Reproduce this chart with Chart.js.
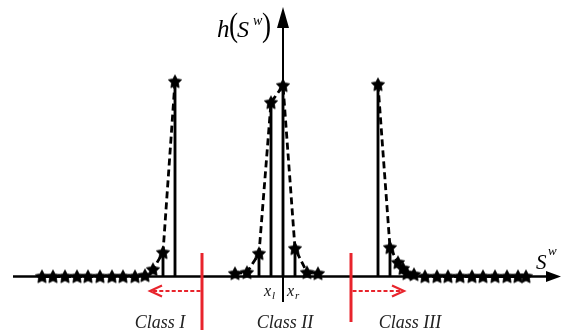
<!DOCTYPE html>
<html><head><meta charset="utf-8">
<script src="https://cdn.jsdelivr.net/npm/chart.js@4/dist/chart.umd.min.js"></script>
<style>html,body{margin:0;padding:0;background:#fff;overflow:hidden}</style>
</head><body>
<canvas id="c" width="562" height="334"></canvas>
<script>
// ---- data: S^w (offset from origin) and h(S^w) ----
const class1X = [-241,-230,-218,-206,-195,-183,-171,-160,-148,-138,-130,-120,-108];
const class1H = [0,0,0,0,0,0,0,0,0,1,7,24,195];
const class2X = [-48,-36,-24,-12,0,12,24,35];
const class2H = [3,4,23,174,191,28,4,3];
const class3X = [95,107,115,120,124,131,142,154,165,177,189,200,212,224,235,243];
const class3H = [192,29,14,8,3,2,0,0,0,0,0,0,0,0,0,0];
const stemX = [-120,-108,-24,-12,0,12,95,107];
const stemH = [24,195,23,174,191,28,192,29];
const boundaryX = [-81, 68];
const arrowEndX = [-133, 121];
const classLabels = ['Class I','Class II','Class III'];
const classLabelX = [-123, 2, 127];
const xRange = [-270, 277];
const yRange = [0, 268.5];

const RED = '#e8242c';
const mk = (xs, hs) => xs.map((v, i) => ({x: v, y: hs[i]}));

function starImg(r) {
  const s = Math.ceil(r * 2 + 2);
  const c = document.createElement('canvas');
  c.width = s; c.height = s;
  const g = c.getContext('2d');
  g.translate(s / 2, s / 2 + 0.5);
  g.beginPath();
  for (let i = 0; i < 10; i++) {
    const a = -Math.PI / 2 + i * Math.PI / 5;
    const rr = i % 2 ? r * 0.52 : r;
    g.lineTo(rr * Math.cos(a), rr * Math.sin(a));
  }
  g.closePath();
  g.fillStyle = '#000';
  g.fill();
  g.strokeStyle = '#000'; g.lineWidth = 0.8; g.stroke();
  return c;
}
const STAR = starImg(7);

const histStyle = {
  type: 'line', showLine: true, borderColor: '#000', borderWidth: 2.8,
  borderDash: [7, 4], pointStyle: STAR, pointRadius: 7, tension: 0,
  clip: false, order: 1
};

const annot = {
  id: 'annot',
  beforeDatasetsDraw(chart) {
    const {ctx, scales: {x, y}} = chart;
    const x0 = x.getPixelForValue(0), y0 = y.getPixelForValue(0);
    ctx.save();
    ctx.strokeStyle = '#000'; ctx.fillStyle = '#000';
    // horizontal axis with arrow
    ctx.lineWidth = 2.6;
    ctx.beginPath(); ctx.moveTo(x.left, y0); ctx.lineTo(x.right - 10, y0); ctx.stroke();
    ctx.beginPath(); ctx.moveTo(x.right + 1, y0); ctx.lineTo(x.right - 14, y0 - 5.5);
    ctx.lineTo(x.right - 14, y0 + 5.5); ctx.closePath(); ctx.fill();
    // vertical axis with arrow
    ctx.lineWidth = 2;
    ctx.beginPath(); ctx.moveTo(x0, y0 + 25.5); ctx.lineTo(x0, y.top + 16); ctx.stroke();
    ctx.beginPath(); ctx.moveTo(x0, y.top - 1); ctx.lineTo(x0 - 6, y.top + 20);
    ctx.lineTo(x0 + 6, y.top + 20); ctx.closePath(); ctx.fill();
    ctx.restore();
  },
  afterDatasetsDraw(chart) {
    const {ctx, scales: {x, y}} = chart;
    const x0 = x.getPixelForValue(0), y0 = y.getPixelForValue(0);
    ctx.save();
    // red class boundaries and dashed arrows
    const bottoms = [53.5, 45.5];
    boundaryX.forEach((b, i) => {
      const bx = x.getPixelForValue(b);
      ctx.strokeStyle = RED; ctx.lineWidth = 3; ctx.setLineDash([]);
      ctx.beginPath(); ctx.moveTo(bx, y0 - 23.5); ctx.lineTo(bx, y0 + bottoms[i]); ctx.stroke();
      const ex = x.getPixelForValue(arrowEndX[i]);
      const dir = ex < bx ? -1 : 1;
      const ay = y0 + 14.5;
      ctx.lineWidth = 2; ctx.setLineDash([4, 2.2]);
      ctx.beginPath(); ctx.moveTo(bx + dir * 1.5, ay); ctx.lineTo(ex, ay); ctx.stroke();
      ctx.setLineDash([]); ctx.lineWidth = 2.2;
      ctx.beginPath(); ctx.moveTo(ex - dir * 12, ay - 5.5); ctx.lineTo(ex, ay);
      ctx.lineTo(ex - dir * 12, ay + 5.5); ctx.stroke();
    });
    // class labels
    ctx.fillStyle = '#222';
    ctx.font = "italic 18px 'Liberation Serif'";
    ctx.textAlign = 'center'; ctx.textBaseline = 'alphabetic';
    classLabels.forEach((t, i) => ctx.fillText(t, x.getPixelForValue(classLabelX[i]), y0 + 51));
    // x_l, x_r
    ctx.textAlign = 'left'; ctx.fillStyle = '#111';
    ctx.font = "italic 16px 'Liberation Serif'";
    ctx.fillText('x', x0 - 19, y0 + 19.5);
    ctx.fillText('x', x0 + 4, y0 + 19.5);
    ctx.font = "italic 11px 'Liberation Serif'";
    ctx.fillText('l', x0 - 11, y0 + 22.5);
    ctx.fillText('r', x0 + 12, y0 + 22.5);
    // S^w axis label
    ctx.fillStyle = '#000';
    ctx.font = "italic 21px 'Liberation Serif'";
    ctx.fillText('S', x.right - 24, y0 - 8);
    ctx.font = "italic 13px 'Liberation Serif'";
    ctx.fillText('w', x.right - 12, y0 - 22);
    // h(S^w) label
    const ly = y.top + 29;
    ctx.font = "italic 25px 'Liberation Serif'";
    ctx.fillText('h', x0 - 66, ly);
    ctx.font = "34px 'Liberation Serif'";
    ctx.save(); ctx.scale(0.8, 1);
    ctx.fillText('(', (x0 - 54) / 0.8, ly - 1);
    ctx.fillText(')', (x0 - 21) / 0.8, ly - 1);
    ctx.restore();
    ctx.font = "italic 24px 'Liberation Serif'";
    ctx.fillText('S', x0 - 46, ly);
    ctx.font = "italic 14px 'Liberation Serif'";
    ctx.fillText('w', x0 - 30, ly - 12);
    ctx.restore();
  }
};

new Chart(document.getElementById('c'), {
  data: {
    datasets: [
      {type: 'bar', data: mk(stemX, stemH), backgroundColor: '#000', barThickness: 2.2, order: 2, clip: false},
      Object.assign({data: mk(class1X, class1H)}, histStyle),
      Object.assign({data: mk(class2X, class2H)}, histStyle),
      Object.assign({data: mk(class3X, class3H)}, histStyle)
    ]
  },
  options: {
    responsive: false, animation: false,
    layout: {autoPadding: false, padding: {left: 13, right: 2, top: 8, bottom: 57.5}},
    plugins: {legend: {display: false}, tooltip: {enabled: false}},
    scales: {
      x: {type: 'linear', min: xRange[0], max: xRange[1], display: false, offset: false},
      y: {type: 'linear', min: yRange[0], max: yRange[1], display: false}
    }
  },
  plugins: [annot]
});
</script>
</body></html>
